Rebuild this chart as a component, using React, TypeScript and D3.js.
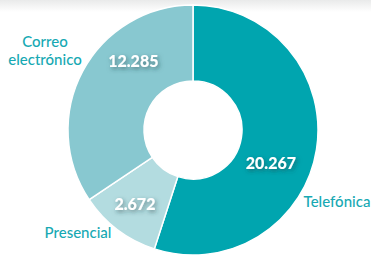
import { useEffect, useRef } from 'react'
import * as d3 from 'd3'

const W = 371, H = 255
const CX = 193, CY = 130, R_OUT = 125, R_IN = 49

const CATEGORIES = ['Telefónica', 'Presencial', 'Correo electrónico']
const VALUES = [20267, 2672, 12285]
// slice shares as drawn in the picture (%), which differ a little from the labelled values
const SHARES = [55.0, 10.6, 34.4]
const COLORS = ['#00a5af', '#b3dce0', '#88c8d0']
// label nudges relative to centroid (value) and outside label placement
const VALUE_NUDGE = [[-9, 19], [-5, 4], [18, -27]]
const NAME_LINES = [['Telefónica'], ['Presencial'], ['Correo', 'electrónico']]
const NAME_POS = [[337, 202], [78, 233], [45, 42]]

const fmt = (v: number) => d3.format(',')(v).replace(/,/g, '.')

export default function App() {
  const ref = useRef<SVGSVGElement>(null)

  useEffect(() => {
    const svg = d3.select(ref.current)
    svg.selectAll('*').remove()

    const defs = svg.append('defs')
    const f = defs.append('filter').attr('id', 'sh').attr('x', '-30%').attr('y', '-50%').attr('width', '160%').attr('height', '200%')
    f.append('feDropShadow').attr('dx', 1.5).attr('dy', 2).attr('stdDeviation', 2)
      .attr('flood-color', '#1e3b40').attr('flood-opacity', 0.55)
    const g0 = defs.append('linearGradient').attr('id', 'top').attr('x1', 0).attr('y1', 0).attr('x2', 0).attr('y2', 1)
    g0.append('stop').attr('offset', 0).attr('stop-color', '#e9eaea')
    g0.append('stop').attr('offset', 1).attr('stop-color', '#ffffff')
    svg.append('rect').attr('x', 0).attr('y', 0).attr('width', W).attr('height', 12).attr('fill', 'url(#top)')

    const data = CATEGORIES.map((c, i) => ({ c, v: VALUES[i], s: SHARES[i], i }))
    const pie = d3.pie<typeof data[0]>().value(d => d.s).sort(null)
    const arcs = pie(data)
    const arc = d3.arc<d3.PieArcDatum<typeof data[0]>>().innerRadius(R_IN).outerRadius(R_OUT)
    const labelArc = d3.arc<d3.PieArcDatum<typeof data[0]>>().innerRadius(88).outerRadius(88)

    const g = svg.append('g').attr('transform', `translate(${CX},${CY})`)
    g.selectAll('path').data(arcs).join('path')
      .attr('d', arc)
      .attr('fill', d => COLORS[d.data.i])
      .attr('stroke', '#fff').attr('stroke-width', 1.5)

    g.selectAll('text.val').data(arcs).join('text')
      .attr('class', 'val')
      .attr('x', d => labelArc.centroid(d)[0] + VALUE_NUDGE[d.data.i][0])
      .attr('y', d => labelArc.centroid(d)[1] + VALUE_NUDGE[d.data.i][1])
      .attr('text-anchor', 'middle').attr('dy', '0.36em')
      .attr('font-family', 'Lato, sans-serif').attr('font-weight', 900).attr('font-size', 16)
      .attr('fill', '#fff').attr('filter', 'url(#sh)')
      .text(d => fmt(d.data.v))

    data.forEach((d, i) => {
      const t = svg.append('text')
        .attr('x', NAME_POS[i][0]).attr('y', NAME_POS[i][1])
        .attr('text-anchor', 'middle')
        .attr('font-family', 'Lato, sans-serif').attr('font-size', 15).attr('font-weight', 500)
        .attr('fill', '#17a9b3')
      NAME_LINES[i].forEach((line, k) => {
        t.append('tspan').attr('x', NAME_POS[i][0]).attr('dy', k === 0 ? '0.36em' : 18).text(line)
      })
    })
  }, [])

  return (
    <svg ref={ref} width={W} height={H} viewBox={`0 0 ${W} ${H}`}
      style={{ position: 'absolute', left: 0, top: 0, background: '#fff' }} />
  )
}
